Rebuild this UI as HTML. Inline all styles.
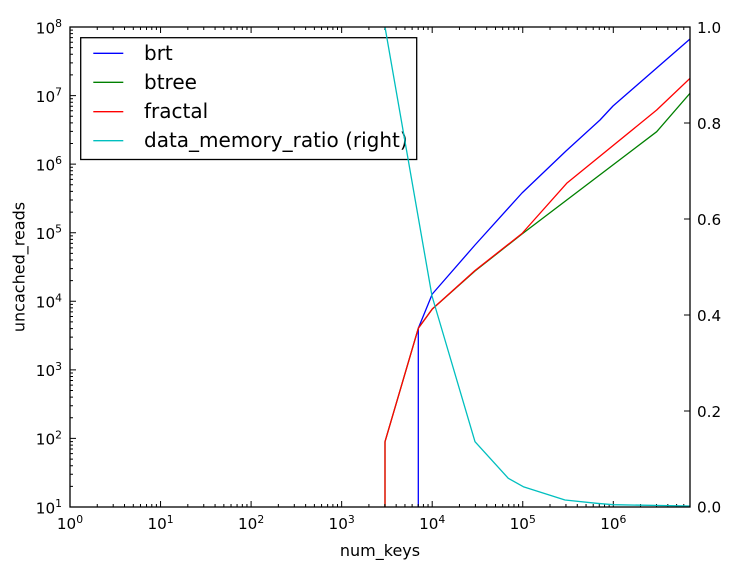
<!DOCTYPE html>
<html>
<head>
<meta charset="utf-8">
<style>
html,body{margin:0;padding:0;background:#fff;}
svg{display:block;}
text{font-family:"DejaVu Sans","Liberation Sans",sans-serif;fill:#000;}
</style>
</head>
<body>
<svg width="734" height="567" viewBox="0 0 734 567" xmlns="http://www.w3.org/2000/svg">
<rect x="0" y="0" width="734" height="567" fill="#fff"/>
<defs>
<clipPath id="pa"><rect x="70" y="27" width="620" height="480"/></clipPath>
</defs>

<!-- series (left axis) -->
<g clip-path="url(#pa)" fill="none" stroke-width="1.3" stroke-linejoin="round">
<polyline stroke="#0000ff" points="418.3,507 418.3,328.3 432.3,294 475,245 522,193 566,151 600,120 613,106 690,39"/>
<polyline stroke="#008000" points="385,507 385,441.7 418.3,328.3 432.3,309 475,271 522,234 656.7,131.7 690,93.3"/>
<polyline stroke="#ff0000" points="385,507 385,441.7 418.3,328.3 432.3,309 475,270.5 522,233.5 566.7,183.3 656.7,110 690,78.3"/>
</g>

<!-- ticks -->
<g stroke="#000" stroke-width="1" fill="none">
<path d="M70,507v-6M160.55,507v-6M251.1,507v-6M341.65,507v-6M432.2,507v-6M522.75,507v-6M613.3,507v-6
M70,27v6M160.55,27v6M251.1,27v6M341.65,27v6M432.2,27v6M522.75,27v6M613.3,27v6"/>
<path d="M97.26,507v-3M113.2,507v-3M124.52,507v-3M133.3,507v-3M140.47,507v-3M146.52,507v-3M151.78,507v-3M156.4,507v-3
M187.81,507v-3M203.75,507v-3M215.07,507v-3M223.85,507v-3M231.02,507v-3M237.07,507v-3M242.33,507v-3M246.95,507v-3
M278.36,507v-3M294.3,507v-3M305.62,507v-3M314.4,507v-3M321.57,507v-3M327.62,507v-3M332.88,507v-3M337.5,507v-3
M368.91,507v-3M384.85,507v-3M396.17,507v-3M404.95,507v-3M412.12,507v-3M418.17,507v-3M423.43,507v-3M428.05,507v-3
M459.46,507v-3M475.4,507v-3M486.72,507v-3M495.5,507v-3M502.67,507v-3M508.72,507v-3M513.98,507v-3M518.6,507v-3
M550.01,507v-3M565.95,507v-3M577.27,507v-3M586.05,507v-3M593.22,507v-3M599.27,507v-3M604.53,507v-3M609.15,507v-3
M640.56,507v-3M656.5,507v-3M667.82,507v-3M676.6,507v-3M683.77,507v-3"/>
<path d="M97.26,27v3M113.2,27v3M124.52,27v3M133.3,27v3M140.47,27v3M146.52,27v3M151.78,27v3M156.4,27v3
M187.81,27v3M203.75,27v3M215.07,27v3M223.85,27v3M231.02,27v3M237.07,27v3M242.33,27v3M246.95,27v3
M278.36,27v3M294.3,27v3M305.62,27v3M314.4,27v3M321.57,27v3M327.62,27v3M332.88,27v3M337.5,27v3
M368.91,27v3M384.85,27v3M396.17,27v3M404.95,27v3M412.12,27v3M418.17,27v3M423.43,27v3M428.05,27v3
M459.46,27v3M475.4,27v3M486.72,27v3M495.5,27v3M502.67,27v3M508.72,27v3M513.98,27v3M518.6,27v3
M550.01,27v3M565.95,27v3M577.27,27v3M586.05,27v3M593.22,27v3M599.27,27v3M604.53,27v3M609.15,27v3
M640.56,27v3M656.5,27v3M667.82,27v3M676.6,27v3M683.77,27v3"/>
<path d="M70,27h6M70,95.57h6M70,164.14h6M70,232.71h6M70,301.29h6M70,369.86h6M70,438.43h6M70,507h6"/>
<path d="M70,486.36h3M70,474.28h3M70,465.71h3M70,459.07h3M70,453.64h3M70,449.05h3M70,445.07h3M70,441.57h3
M70,417.79h3M70,405.71h3M70,397.14h3M70,390.5h3M70,385.07h3M70,380.48h3M70,376.5h3M70,373h3
M70,349.22h3M70,337.14h3M70,328.57h3M70,321.93h3M70,316.5h3M70,311.91h3M70,307.93h3M70,304.43h3
M70,280.65h3M70,268.57h3M70,260h3M70,253.36h3M70,247.93h3M70,243.34h3M70,239.36h3M70,235.86h3
M70,212.07h3M70,199.99h3M70,191.42h3M70,184.78h3M70,179.35h3M70,174.76h3M70,170.78h3M70,167.28h3
M70,143.5h3M70,131.42h3M70,122.85h3M70,116.21h3M70,110.78h3M70,106.19h3M70,102.21h3M70,98.71h3
M70,74.93h3M70,62.85h3M70,54.28h3M70,47.64h3M70,42.21h3M70,37.62h3M70,33.64h3M70,30.14h3"/>
<path d="M690,27h-6M690,123h-6M690,219h-6M690,315h-6M690,411h-6M690,507h-6"/>
</g>

<!-- legend -->
<rect x="80.7" y="37.7" width="336" height="121.8" fill="#fff" stroke="#000" stroke-width="1.3"/>
<g stroke-width="1.3">
<line x1="93.3" y1="53.3" x2="123.3" y2="53.3" stroke="#0000ff"/>
<line x1="93.3" y1="82.3" x2="123.3" y2="82.3" stroke="#008000"/>
<line x1="93.3" y1="111.7" x2="123.3" y2="111.7" stroke="#ff0000"/>
<line x1="93.3" y1="140.7" x2="123.3" y2="140.7" stroke="#00bfbf"/>
</g>
<g font-size="20">
<text x="144" y="60">brt</text>
<text x="144" y="89">btree</text>
<text x="144" y="118">fractal</text>
<text x="144" y="147">data_memory_ratio (right)</text>
</g>

<!-- right-axis series drawn above legend -->
<g clip-path="url(#pa)" fill="none" stroke-width="1.3" stroke-linejoin="round">
<polyline stroke="#00bfbf" points="385,27 432,296 475,441.7 508.3,478.3 523.3,486.7 565,500 596.7,503.3 613,504.7 690,506"/>
</g>

<!-- spines -->
<rect x="70" y="27" width="620" height="480" fill="none" stroke="#000" stroke-width="1.3"/>

<!-- x tick labels -->
<g font-size="15.2" text-anchor="middle">
<text x="70" y="529">10<tspan dy="-6" font-size="10.8">0</tspan></text>
<text x="160.55" y="529">10<tspan dy="-6" font-size="10.8">1</tspan></text>
<text x="251.1" y="529">10<tspan dy="-6" font-size="10.8">2</tspan></text>
<text x="341.65" y="529">10<tspan dy="-6" font-size="10.8">3</tspan></text>
<text x="432.2" y="529">10<tspan dy="-6" font-size="10.8">4</tspan></text>
<text x="522.75" y="529">10<tspan dy="-6" font-size="10.8">5</tspan></text>
<text x="613.3" y="529">10<tspan dy="-6" font-size="10.8">6</tspan></text>
</g>

<!-- y left tick labels -->
<g font-size="15.2" text-anchor="end">
<text x="62" y="33.3">10<tspan dy="-6.3" font-size="10.8">8</tspan></text>
<text x="62" y="101.9">10<tspan dy="-6.3" font-size="10.8">7</tspan></text>
<text x="62" y="170.4">10<tspan dy="-6.3" font-size="10.8">6</tspan></text>
<text x="62" y="239">10<tspan dy="-6.3" font-size="10.8">5</tspan></text>
<text x="62" y="307.6">10<tspan dy="-6.3" font-size="10.8">4</tspan></text>
<text x="62" y="376.2">10<tspan dy="-6.3" font-size="10.8">3</tspan></text>
<text x="62" y="444.7">10<tspan dy="-6.3" font-size="10.8">2</tspan></text>
<text x="62" y="513.3">10<tspan dy="-6.3" font-size="10.8">1</tspan></text>
</g>

<!-- y right tick labels -->
<g font-size="15.2">
<text x="697" y="32.8">1.0</text>
<text x="697" y="128.8">0.8</text>
<text x="697" y="224.8">0.6</text>
<text x="697" y="320.8">0.4</text>
<text x="697" y="416.8">0.2</text>
<text x="697" y="512.6">0.0</text>
</g>

<!-- axis labels -->
<text x="380" y="556" font-size="16" text-anchor="middle">num_keys</text>
<text x="24.5" y="267" font-size="16" text-anchor="middle" transform="rotate(-90 24.5 267)">uncached_reads</text>
</svg>
</body>
</html>
